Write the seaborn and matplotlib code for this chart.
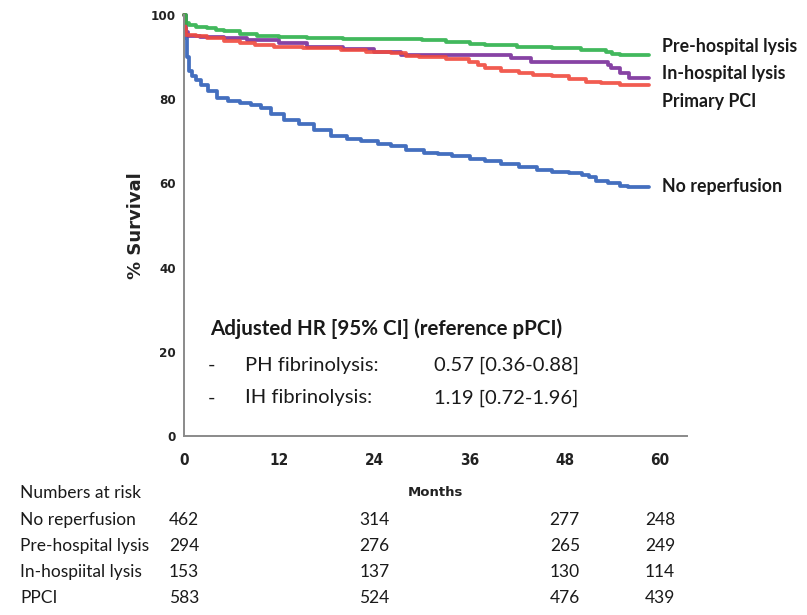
import matplotlib
matplotlib.use("Agg")
import matplotlib.pyplot as plt
from matplotlib import font_manager
import matplotlib.transforms as mtrans
import seaborn as sns
import pandas as pd

# ---------------- data ----------------
groups = ["No reperfusion", "In-hospital lysis", "Primary PCI", "Pre-hospital lysis"]
colors = {"No reperfusion": "#2f5fb8", "In-hospital lysis": "#7a2e9a",
          "Primary PCI": "#f04a3e", "Pre-hospital lysis": "#2db14b"}

norep_t = [0, 0.1, 0.2, 0.4, 0.6, 1.0, 1.5, 2.1, 3.0, 4.2, 5.5, 7.1, 8.5, 9.7, 11.0, 12.6,
           14.5, 16.4, 18.5, 20.5, 22.3, 24.5, 26.1, 28.0, 30.3, 32.0, 33.8, 36.0, 38.0,
           40.0, 42.2, 44.5, 46.4, 48.5, 50.2, 51.0, 51.9, 53.5, 54.9, 56.0, 58.6]
norep_s = [100, 97, 94.5, 90, 86.6, 85.5, 84.5, 83.4, 82, 80.4, 79.6, 79.2, 78.6, 78, 76.5,
           75.1, 74, 72.8, 71.2, 70.6, 70, 69.4, 68.8, 68, 67.3, 66.9, 66.4, 65.8, 65.3,
           64.6, 63.8, 63.2, 62.6, 62.4, 62.1, 61.5, 60.6, 60, 59.4, 59.1, 59.1]

ph_t = [0, 0.2, 0.6, 1.5, 2.9, 4.0, 5.0, 7.0, 9.2, 12.0, 15.5, 20.0, 26.1, 30.0, 33.0,
        36.0, 38.0, 42.0, 46.4, 50.0, 53.2, 54.0, 54.9, 58.6]
ph_s = [100, 98, 97.6, 97.2, 96.8, 96.4, 96.1, 95.5, 95, 94.8, 94.6, 94.4, 94.2, 94.0,
        93.6, 93.2, 92.9, 92.5, 92.1, 91.7, 91.3, 90.8, 90.4, 90.4]

ih_t = [0, 0.2, 0.5, 2.0, 5.0, 8.0, 12.0, 15.5, 20.0, 24.0, 27.3, 41.2, 43.7, 53.5,
        53.8, 54.9, 56.1, 58.6]
ih_s = [100, 96, 95, 94.7, 94.5, 94, 93.3, 92.5, 91.9, 91.3, 90.5, 89.7, 88.9, 88.1,
        87.4, 86.2, 85, 85]

ppci_t = [0, 0.1, 0.3, 1.5, 2.9, 5.0, 7.1, 9.0, 11.3, 15.0, 19.8, 23.0, 26.1, 28.0,
          29.6, 33.0, 35.9, 37.0, 38.0, 40.0, 42.2, 44.0, 46.4, 48.5, 50.7, 52.5, 54.9, 58.6]
ppci_s = [100, 97, 95.3, 95, 94.5, 93.8, 93.3, 92.9, 92.5, 92.1, 91.7, 91.3, 90.9, 90.3,
          90.1, 89.5, 88.9, 88.1, 87.4, 86.8, 86.2, 85.8, 85.4, 84.8, 84.2, 83.8, 83.4, 83.4]

curve_t = {"No reperfusion": norep_t, "Pre-hospital lysis": ph_t,
           "In-hospital lysis": ih_t, "Primary PCI": ppci_t}
curve_s = {"No reperfusion": norep_s, "Pre-hospital lysis": ph_s,
           "In-hospital lysis": ih_s, "Primary PCI": ppci_s}

# right-hand curve labels and their y-positions (% survival)
end_labels = ["Pre-hospital lysis", "In-hospital lysis", "Primary PCI", "No reperfusion"]
end_label_y = [92.6, 86.0, 79.4, 59.2]

x_ticks = [0, 12, 24, 36, 48, 60]
y_ticks = [0, 20, 40, 60, 80, 100]

risk_months = [0, 24, 48, 60]
risk_rows = ["No reperfusion", "Pre-hospital lysis", "In-hospiital lysis", "PPCI"]
risk_norep = [462, 314, 277, 248]
risk_ph = [294, 276, 265, 249]
risk_ih = [153, 137, 130, 114]
risk_ppci = [583, 524, 476, 439]
risk_values = [risk_norep, risk_ph, risk_ih, risk_ppci]

hr_title = "Adjusted HR [95% CI] (reference pPCI)"
hr_names = ["PH fibrinolysis:", "IH fibrinolysis:"]
hr_values = ["0.57 [0.36-0.88]", "1.19 [0.72-1.96]"]

# ---------------- style ----------------
sns.set_style("white")
avail = {f.name for f in font_manager.fontManager.ttflist}
text_font = ["Lato", "DejaVu Sans"] if "Lato" in avail else ["DejaVu Sans"]
plt.rcParams["font.family"] = text_font
tick_fp = font_manager.FontProperties(family="DejaVu Sans", weight="bold", stretch="condensed")

W, H = 807, 615
fig = plt.figure(figsize=(W / 100, H / 100), dpi=100)
ax_l, ax_r, ax_t, ax_b = 184, 687, 15, 436
ax = fig.add_axes([ax_l / W, 1 - ax_b / H, (ax_r - ax_l) / W, (ax_b - ax_t) / H])

rows = []
for g in groups:
    for t, s in zip(curve_t[g], curve_s[g]):
        rows.append({"group": g, "month": t, "surv": s})
df = pd.DataFrame(rows)

for g in groups:
    sub = df[df.group == g]
    sns.lineplot(data=sub, x="month", y="surv", ax=ax, color=colors[g], lw=2.7,
                 drawstyle="steps-post", estimator=None, sort=False, legend=False,
                 clip_on=False, alpha=0.9)

xmax = (ax_r - ax_l) / ((660 - 184) / 60)
ax.set_xlim(0, xmax)
ax.set_ylim(0, 100)
for sp in ["top", "right"]:
    ax.spines[sp].set_visible(False)
for sp in ["left", "bottom"]:
    ax.spines[sp].set_color("#8a8a8a")
    ax.spines[sp].set_linewidth(1.4)

ax.set_xticks(x_ticks)
ax.set_yticks(y_ticks)
ax.tick_params(axis="x", direction="out", length=9, width=1.4, color="#555555",
               pad=3, labelcolor="#222222")
ax.tick_params(axis="y", direction="out", length=5, width=1.4, color="#555555",
               pad=1, labelcolor="#222222")
for lab in ax.get_xticklabels():
    lab.set_fontproperties(tick_fp)
    lab.set_fontsize(11)
for lab in ax.get_yticklabels():
    lab.set_fontproperties(tick_fp)
    lab.set_fontsize(9.5)

ax.set_xlabel("Months", fontsize=9.5, fontweight="bold", family="DejaVu Sans", color="#222222")
ax.xaxis.set_label_coords(0.5, -(492 - ax_b) / (ax_b - ax_t))
ax.xaxis.label.set_va("center")
ax.set_ylabel("% Survival", fontsize=13, fontweight="bold", family="DejaVu Sans",
              color="#222222")
ax.yaxis.set_label_coords((136 - ax_l) / (ax_r - ax_l), 0.5)
ax.yaxis.label.set_va("center")

# end labels
for lab, yv in zip(end_labels, end_label_y):
    ax.text(60.2, yv, lab, fontsize=12.8, fontweight="bold", ha="left", va="center",
            color="#1a1a1a", clip_on=False)

# HR annotation
def axy(py):
    return (ax_b - py) / (ax_b - ax_t)
def axx(px):
    return (px - ax_l) / (ax_r - ax_l)

ax.text(axx(210), axy(329), hr_title, transform=ax.transAxes, fontsize=14.8,
        fontweight="bold", ha="left", va="center", color="#1a1a1a")
for i, (nm, val) in enumerate(zip(hr_names, hr_values)):
    py = [365, 398][i]
    ax.text(axx(208), axy(py), "-", transform=ax.transAxes, fontsize=14.5, ha="left",
            va="center", color="#1a1a1a")
    ax.text(axx(245), axy(py), nm, transform=ax.transAxes, fontsize=14.5, ha="left",
            va="center", color="#1a1a1a")
    ax.text(axx(434), axy(py), val, transform=ax.transAxes, fontsize=14.5, ha="left",
            va="center", color="#1a1a1a")

# numbers at risk table
blend = mtrans.blended_transform_factory(ax.transData, fig.transFigure)
fig.text(20 / W, 1 - 493 / H, "Numbers at risk", fontsize=12.5, ha="left", va="center",
         color="#1a1a1a")
row_y = [520, 546, 572, 598]
for name, vals, py in zip(risk_rows, risk_values, row_y):
    fig.text(20 / W, 1 - py / H, name, fontsize=12.5, ha="left", va="center", color="#1a1a1a")
    for m, v in zip(risk_months, vals):
        fig.text(m, 1 - py / H, str(v), transform=blend, fontsize=12.5, ha="center",
                 va="center", color="#1a1a1a")

fig.savefig("out.png", dpi=100)
